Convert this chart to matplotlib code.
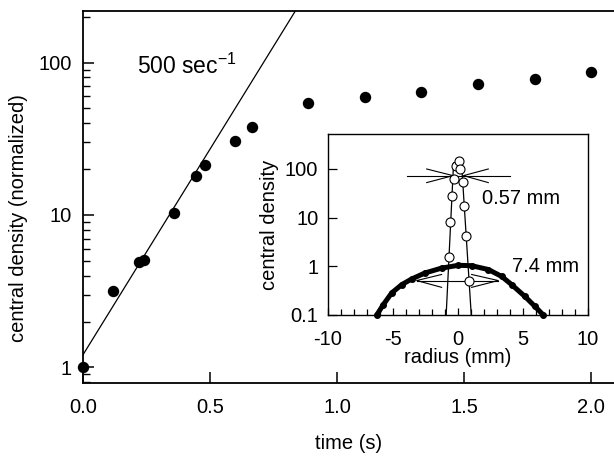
import matplotlib
matplotlib.use('Agg')
import matplotlib.pyplot as plt
from matplotlib.ticker import LogLocator, NullFormatter, FixedLocator, FixedFormatter, MultipleLocator

plt.rcParams['font.family'] = ['Liberation Sans', 'DejaVu Sans']
plt.rcParams['mathtext.default'] = 'regular'

# ---- main panel data ----
time_s = [0.0, 0.117, 0.222, 0.240, 0.358, 0.444, 0.480, 0.600, 0.667, 0.886, 1.11, 1.33, 1.555, 1.78, 2.0]
density = [1.0, 3.19, 4.94, 5.07, 10.3, 18.0, 21.3, 30.6, 37.8, 54.2, 59.4, 64.1, 72.3, 78.0, 86.6]
fit_time = [0.0, 0.90]
fit_density = [1.21, 325.0]
main_xticks = [0.0, 0.5, 1.0, 1.5, 2.0]
main_xticklabels = ['0.0', '0.5', '1.0', '1.5', '2.0']
main_yticks = [1, 10, 100]
main_yticklabels = ['1', '10', '100']

# ---- inset data ----
narrow_r = [-0.69, -0.59, -0.46, -0.33, -0.18, 0.08, 0.18, 0.36, 0.46, 0.62, 0.85]
narrow_d = [1.56, 8.05, 28.3, 61, 117, 148, 98, 54, 17.1, 4.15, 0.51]
narrow_fit_left_r = [-0.91, -0.34]
narrow_fit_left_d = [0.1, 133]
narrow_fit_right_r = [0.27, 1.02]
narrow_fit_right_d = [133, 0.1]

wide_r = [-6.25, -5.74, -5.1, -4.33, -3.56, -2.54, -1.26, 0.03, 1.05, 2.33, 3.36, 4.13, 5.15, 5.92, 6.56]
wide_d = [0.1, 0.164, 0.284, 0.42, 0.55, 0.73, 0.92, 1.05, 1.03, 0.86, 0.62, 0.42, 0.24, 0.15, 0.1]

# FWHM markers
narrow_bar_r = [-3.95, 4.0]
narrow_bar_d = [73, 73]
narrow_arrow_left_r = [-2.41, -0.38, -2.41]
narrow_arrow_left_d = [100, 73, 52.5]
narrow_arrow_right_r = [2.33, 0.42, 2.33]
narrow_arrow_right_d = [100, 73, 52.5]

wide_bar_r = [-3.18, 3.1]
wide_bar_d = [0.51, 0.51]
wide_arrow_left_r = [-1.26, -3.18, -1.26]
wide_arrow_left_d = [0.68, 0.51, 0.37]
wide_arrow_right_r = [1.05, 3.1, 1.05]
wide_arrow_right_d = [0.68, 0.51, 0.37]

inset_xticks = [-10, -5, 0, 5, 10]
inset_xticklabels = ['-10', '-5', '0', '5', '10']
inset_yticks = [0.1, 1, 10, 100]
inset_yticklabels = ['0.1', '1', '10', '100']

FS = 14.5

fig = plt.figure(figsize=(6.14, 4.58), dpi=100)
ax = fig.add_axes([83/614, 1 - 383/458, 1 - 83/614, (383 - 11)/458])

ax.set_yscale('log')
ax.set_xlim(0, 2.09)
ax.set_ylim(0.79, 218)
ax.plot(fit_time, fit_density, color='black', lw=0.9)
ax.plot(time_s, density, 'o', color='black', ms=7.2, clip_on=False, zorder=5)

ax.spines['right'].set_visible(False)
for s in ['left', 'bottom', 'top']:
    ax.spines[s].set_linewidth(1.3)
ax.xaxis.set_major_locator(FixedLocator(main_xticks))
ax.xaxis.set_major_formatter(FixedFormatter(main_xticklabels))
ax.yaxis.set_major_locator(FixedLocator(main_yticks))
ax.yaxis.set_major_formatter(FixedFormatter(main_yticklabels))
ax.yaxis.set_minor_locator(LogLocator(base=10, subs=[2, 3, 4, 5, 6, 7, 8, 9]))
ax.yaxis.set_minor_formatter(NullFormatter())
ax.tick_params(axis='both', which='major', direction='in', length=8, width=1.1,
               labelsize=FS, pad=8, top=False, right=False)
ax.tick_params(axis='x', which='major', pad=11)
ax.tick_params(axis='y', which='minor', direction='in', length=5, width=1.0, right=False)
ax.tick_params(axis='x', which='minor', bottom=False, top=False)
ax.set_xlabel('time (s)', fontsize=FS, labelpad=12)
ax.set_ylabel('central density (normalized)', fontsize=FS, labelpad=7)
ax.yaxis.set_label_coords(-83/614 * 0 - (83 - 18.5) / 531, 0.444)
ax.yaxis.label.set_va('center')
ax.text(0.211, 84, '500 sec$^{-1}$', fontsize=16.5, ha='left', va='baseline')

# ---- inset ----
ins = fig.add_axes([328/614, 1 - 315/458, (588 - 328)/614, (315 - 134.3)/458])
ins.set_yscale('log')
ins.set_xlim(-10, 10)
ins.set_ylim(0.1, 516)

ins.plot(narrow_bar_r, narrow_bar_d, color='black', lw=0.8)
ins.plot(narrow_arrow_left_r, narrow_arrow_left_d, color='black', lw=0.8)
ins.plot(narrow_arrow_right_r, narrow_arrow_right_d, color='black', lw=0.8)
ins.plot(wide_bar_r, wide_bar_d, color='black', lw=0.8)
ins.plot(wide_arrow_left_r, wide_arrow_left_d, color='black', lw=0.8)
ins.plot(wide_arrow_right_r, wide_arrow_right_d, color='black', lw=0.8)

ins.plot(wide_r, wide_d, '-o', color='black', lw=3.6, ms=4.0, solid_capstyle='round',
         clip_on=False, zorder=3)
ins.plot(narrow_fit_left_r, narrow_fit_left_d, color='black', lw=0.9, zorder=4)
ins.plot(narrow_fit_right_r, narrow_fit_right_d, color='black', lw=0.9, zorder=4)
ins.plot(narrow_r, narrow_d, 'o', mfc='white', mec='black', mew=0.8, ms=6.5, zorder=5,
         clip_on=False)

for s in ins.spines.values():
    s.set_linewidth(1.0)
ins.xaxis.set_major_locator(FixedLocator(inset_xticks))
ins.xaxis.set_major_formatter(FixedFormatter(inset_xticklabels))
ins.xaxis.set_minor_locator(MultipleLocator(1))
ins.yaxis.set_major_locator(FixedLocator(inset_yticks))
ins.yaxis.set_major_formatter(FixedFormatter(inset_yticklabels))
ins.yaxis.set_minor_locator(FixedLocator([]))
ins.tick_params(axis='x', which='major', direction='in', length=5, width=0.9, labelsize=FS, pad=11)
ins.tick_params(axis='x', which='minor', direction='in', length=4, width=0.9)
ins.tick_params(axis='y', which='major', direction='in', length=6.5, width=0.9, labelsize=FS, pad=7)
ins.set_xlabel('radius (mm)', fontsize=FS, labelpad=-1)
ins.set_ylabel('central density', fontsize=FS, labelpad=4)
ins.text(1.82, 24.2, '0.57 mm', fontsize=FS, ha='left', va='center')
ins.text(4.15, 1.0, '7.4 mm', fontsize=FS, ha='left', va='center')

fig.savefig('out.png', dpi=100)
